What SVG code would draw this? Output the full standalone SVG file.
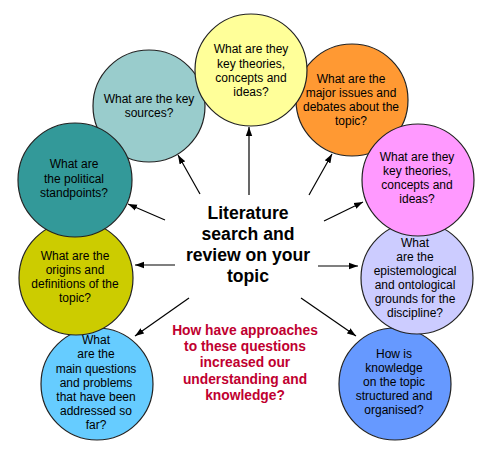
<svg xmlns="http://www.w3.org/2000/svg" width="495" height="454" viewBox="0 0 495 454">
<style>
.c{stroke:#222;stroke-width:1.2}
.t{font-family:"Liberation Sans",Arial,sans-serif;font-size:12px;fill:#000;text-anchor:middle}
.m{font-family:"Liberation Sans",Arial,sans-serif;font-size:17.6px;font-weight:bold;fill:#000;text-anchor:middle}
.r{font-family:"Liberation Sans",Arial,sans-serif;font-size:13.8px;font-weight:bold;fill:#c00030;text-anchor:middle}
.a{stroke:#000;stroke-width:1.2;fill:none;marker-end:url(#ah)}
</style>
<defs>
<marker id="ah" markerUnits="userSpaceOnUse" markerWidth="10" markerHeight="8" refX="9" refY="4" orient="auto">
<path d="M0,0.8 L9,4 L0,7.2 Z" fill="#000"/>
</marker>
</defs>
<rect width="495" height="454" fill="#fff"/>
<g id="node-main-questions">
<circle class="c" cx="97" cy="384" r="56" fill="#66CCFF"/>
<text class="t"><tspan x="96" y="344">What</tspan><tspan x="96" y="358">are the</tspan><tspan x="96" y="372.5">main questions</tspan><tspan x="96" y="387">and problems</tspan><tspan x="96" y="401">that have been</tspan><tspan x="96" y="415">addressed so</tspan><tspan x="96" y="429">far?</tspan></text>
</g>
<g id="node-origins">
<circle class="c" cx="76" cy="278" r="57" fill="#CCCC00"/>
<text class="t"><tspan x="75" y="260">What are the</tspan><tspan x="75" y="274">origins and</tspan><tspan x="75" y="288">definitions of the</tspan><tspan x="75" y="302">topic?</tspan></text>
</g>
<g id="node-key-sources">
<circle class="c" cx="149" cy="106" r="56" fill="#99CCCC"/>
<text class="t"><tspan x="149" y="103">What are the key</tspan><tspan x="149" y="117">sources?</tspan></text>
</g>
<g id="node-political">
<circle class="c" cx="75" cy="180" r="57" fill="#339999"/>
<text class="t"><tspan x="74" y="168">What are</tspan><tspan x="74" y="182.5">the political</tspan><tspan x="74" y="197">standpoints?</tspan></text>
</g>
<g id="node-major-issues">
<circle class="c" cx="352" cy="100" r="56" fill="#FF9933"/>
<text class="t"><tspan x="351" y="83">What are the</tspan><tspan x="351" y="97">major issues and</tspan><tspan x="351" y="111">debates about the</tspan><tspan x="351" y="125">topic?</tspan></text>
</g>
<g id="node-key-theories-top">
<circle class="c" cx="251" cy="70" r="56" fill="#FFFF99"/>
<text class="t"><tspan x="251" y="53">What are they</tspan><tspan x="251" y="67.5">key theories,</tspan><tspan x="251" y="82">concepts and</tspan><tspan x="251" y="96">ideas?</tspan></text>
</g>
<g id="node-structured">
<circle class="c" cx="395" cy="384" r="56" fill="#6699FF"/>
<text class="t"><tspan x="394" y="358">How is</tspan><tspan x="394" y="372">knowledge</tspan><tspan x="394" y="386">on the topic</tspan><tspan x="394" y="400">structured and</tspan><tspan x="394" y="414">organised?</tspan></text>
</g>
<g id="node-epistemological">
<circle class="c" cx="417" cy="278" r="56" fill="#CCCCFF"/>
<text class="t"><tspan x="415" y="247">What</tspan><tspan x="415" y="261">are the</tspan><tspan x="415" y="275">epistemological</tspan><tspan x="415" y="289">and ontological</tspan><tspan x="415" y="303">grounds for the</tspan><tspan x="415" y="317">discipline?</tspan></text>
</g>
<g id="node-key-theories-right">
<circle class="c" cx="418" cy="180" r="56" fill="#FF99FF"/>
<text class="t"><tspan x="417" y="161">What are they</tspan><tspan x="417" y="175">key theories,</tspan><tspan x="417" y="189">concepts and</tspan><tspan x="417" y="203">ideas?</tspan></text>
</g>
<g id="center">
<text class="m"><tspan x="248" y="219">Literature</tspan><tspan x="248" y="240">search and</tspan><tspan x="248" y="261">review on your</tspan><tspan x="248" y="282">topic</tspan></text>
</g>
<g id="question">
<text class="r"><tspan x="245" y="335">How have approaches</tspan><tspan x="245" y="351">to these questions</tspan><tspan x="245" y="367">increased our</tspan><tspan x="245" y="383.5">understanding and</tspan><tspan x="245" y="400">knowledge?</tspan></text>
</g>
<g id="connectors">
<line class="a" x1="249" y1="195" x2="249" y2="127"/>
<line class="a" x1="200" y1="194" x2="178" y2="155"/>
<line class="a" x1="165" y1="220" x2="128" y2="204"/>
<line class="a" x1="175" y1="265" x2="135" y2="265"/>
<line class="a" x1="189" y1="298" x2="135" y2="336"/>
<line class="a" x1="309" y1="195" x2="332" y2="154"/>
<line class="a" x1="324" y1="221" x2="363" y2="202"/>
<line class="a" x1="318" y1="266" x2="358" y2="266"/>
<line class="a" x1="301" y1="298" x2="356" y2="336"/>
</g>
</svg>
